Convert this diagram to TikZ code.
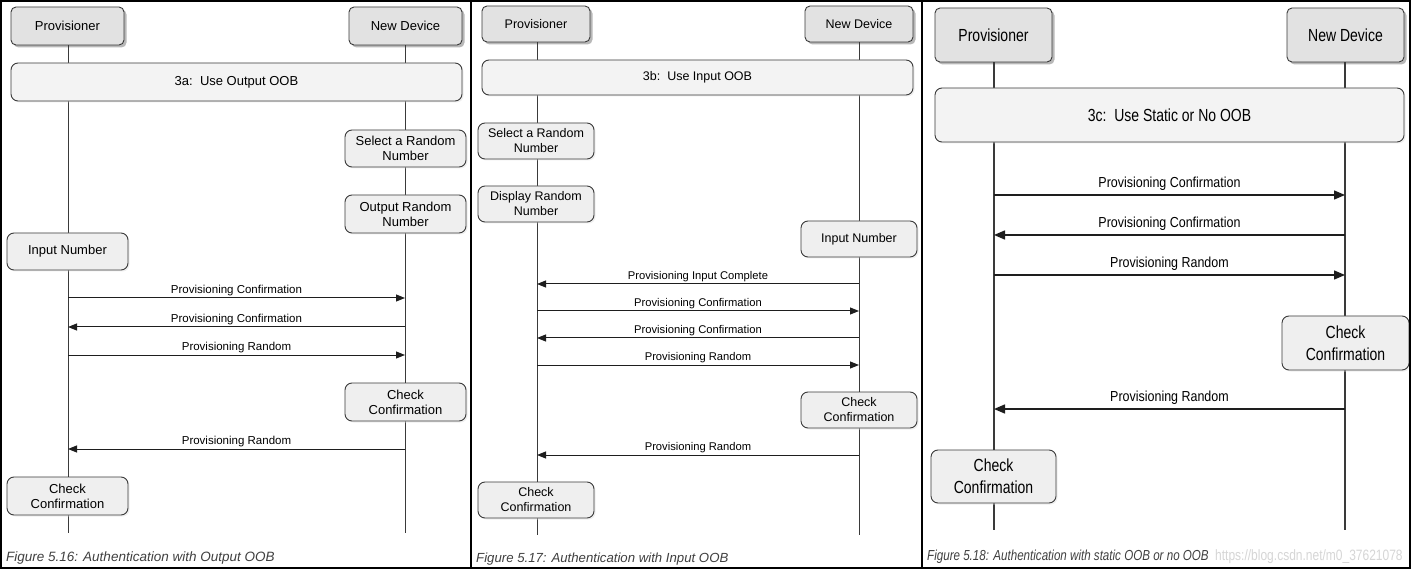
\documentclass[tikz,border=0pt]{standalone}
\usepackage{fontspec}
\setmainfont{Liberation Sans}
\newfontfamily\cfont[FakeStretch=0.8]{Liberation Sans}
\newfontfamily\clfont[FakeStretch=0.86]{Liberation Sans}
\usetikzlibrary{shadows,arrows.meta}
\definecolor{lc}{HTML}{3A3A3A}
\definecolor{mc}{HTML}{1E1E1E}
\definecolor{hfill}{HTML}{E2E2E2}
\definecolor{sfill}{HTML}{EFEFEF}
\definecolor{pfill}{HTML}{F3F3F3}
\definecolor{capc}{HTML}{404040}
\begin{document}
\begin{tikzpicture}[x=1pt,y=-1pt,
  frame/.style={draw=black, line width=2pt},
  life/.style={draw=lc, line width=0.9pt},
  hdr/.style={draw=lc, line width=0.9pt, fill=hfill, rounded corners=5pt, inner sep=0pt,
    drop shadow={shadow xshift=2.5pt, shadow yshift=-2.5pt, fill=black!55}},
  stp/.style={draw=lc, line width=0.9pt, fill=sfill, rounded corners=7pt, inner sep=0pt, align=center,
    drop shadow={shadow xshift=1.5pt, shadow yshift=-1.5pt, fill=black!12}},
  phs/.style={draw=lc, line width=0.9pt, fill=pfill, rounded corners=7pt, inner sep=0pt,
    drop shadow={shadow xshift=1.5pt, shadow yshift=-1.5pt, fill=black!12}},
  msg/.style={draw=mc, line width=1pt, -{Triangle[length=9pt,width=7pt]}},
  msgc/.style={draw=mc, line width=1.4pt, -{Triangle[length=11pt,width=9pt]}},
  lab/.style={above=0.5pt, inner sep=1pt},
  fa/.style={font=\fontsize{13}{15}\selectfont},
  fal/.style={font=\fontsize{11.5}{13}\selectfont},
  fb/.style={font=\fontsize{12.5}{15}\selectfont},
  fbl/.style={font=\fontsize{11.2}{13}\selectfont},
  fc/.style={font=\cfont\fontsize{17.5}{22}\selectfont},
  fcl/.style={font=\clfont\fontsize{14.5}{17}\selectfont},
  captxt/.style={anchor=base west, inner sep=0pt, text=capc},
]
\useasboundingbox (0,0) rectangle (1411,569);
\fill[white] (0,0) rectangle (1411,569);

% ================= Panel a =================
\coordinate (aPe) at (68,533);
\coordinate (aNe) at (405,533);
\node[hdr, fa, minimum width=113pt, minimum height=38pt] (aP) at (67.5,26) {Provisioner};
\node[hdr, fa, minimum width=113pt, minimum height=38pt] (aN) at (405.5,26) {New Device};
\draw[life] (aP.south -| aPe) -- (aPe);
\draw[life] (aN.south -| aNe) -- (aNe);
\node[phs, fa, minimum width=451pt, minimum height=38pt] (aPh) at (236.5,82) {3a:\ \ Use Output OOB};
\node[stp, fa, minimum width=121pt, minimum height=37pt] (aS1) at (405.5,148.5) {Select a Random\\Number};
\node[stp, fa, minimum width=121pt, minimum height=38pt] (aS2) at (405.5,214) {Output Random\\Number};
\node[stp, fa, minimum width=121pt, minimum height=37pt] (aS3) at (67.5,251.5) {Input Number};
\coordinate (a1l) at (68,298); \coordinate (a1r) at (405,298);
\coordinate (a2l) at (68,327); \coordinate (a2r) at (405,327);
\coordinate (a3l) at (68,355); \coordinate (a3r) at (405,355);
\coordinate (a4l) at (68,449); \coordinate (a4r) at (405,449);
\draw[msg] (a1l) -- (a1r) node[midway, lab, fal] (aL1) {Provisioning Confirmation};
\draw[msg] (a2r) -- (a2l) node[midway, lab, fal] (aL2) {Provisioning Confirmation};
\draw[msg] (a3l) -- (a3r) node[midway, lab, fal] (aL3) {Provisioning Random};
\node[stp, fa, minimum width=121pt, minimum height=38pt] (aS4) at (405.5,402) {Check\\Confirmation};
\draw[msg] (a4r) -- (a4l) node[midway, lab, fal] (aL4) {Provisioning Random};
\node[stp, fa, minimum width=121pt, minimum height=38pt] (aS5) at (67.5,496) {Check\\Confirmation};
\node[captxt, font=\fontsize{13.5}{15}\selectfont\itshape] (aC) at (6,561) {Figure 5.16: Authentication with Output OOB};

% ================= Panel b =================
\coordinate (bPe) at (537,535);
\coordinate (bNe) at (859,535);
\node[hdr, fb, minimum width=108pt, minimum height=36pt] (bP) at (536,24) {Provisioner};
\node[hdr, fb, minimum width=108pt, minimum height=36pt] (bN) at (859,24) {New Device};
\draw[life] (bP.south -| bPe) -- (bPe);
\draw[life] (bN.south -| bNe) -- (bNe);
\node[phs, fb, minimum width=431pt, minimum height=35pt] (bPh) at (697.5,77.5) {3b:\ \ Use Input OOB};
\node[stp, fb, minimum width=116pt, minimum height=36pt] (bS1) at (536,141) {Select a Random\\Number};
\node[stp, fb, minimum width=116pt, minimum height=36pt] (bS2) at (536,204) {Display Random\\Number};
\node[stp, fb, minimum width=116pt, minimum height=36pt] (bS3) at (859,239) {Input Number};
\coordinate (b1l) at (537,284); \coordinate (b1r) at (859,284);
\coordinate (b2l) at (537,311); \coordinate (b2r) at (859,311);
\coordinate (b3l) at (537,338); \coordinate (b3r) at (859,338);
\coordinate (b4l) at (537,365); \coordinate (b4r) at (859,365);
\coordinate (b5l) at (537,455); \coordinate (b5r) at (859,455);
\draw[msg] (b1r) -- (b1l) node[midway, lab, fbl] (bL1) {Provisioning Input Complete};
\draw[msg] (b2l) -- (b2r) node[midway, lab, fbl] (bL2) {Provisioning Confirmation};
\draw[msg] (b3r) -- (b3l) node[midway, lab, fbl] (bL3) {Provisioning Confirmation};
\draw[msg] (b4l) -- (b4r) node[midway, lab, fbl] (bL4) {Provisioning Random};
\node[stp, fb, minimum width=116pt, minimum height=36pt] (bS4) at (859,410) {Check\\Confirmation};
\draw[msg] (b5r) -- (b5l) node[midway, lab, fbl] (bL5) {Provisioning Random};
\node[stp, fb, minimum width=116pt, minimum height=36pt] (bS5) at (536,500) {Check\\Confirmation};
\node[captxt, font=\fontsize{13.2}{15}\selectfont\itshape] (bC) at (476,562) {Figure 5.17: Authentication with Input OOB};

% ================= Panel c =================
\coordinate (cPe) at (994,530);
\coordinate (cNe) at (1345,530);
\node[hdr, fc, minimum width=117pt, minimum height=54pt] (cP) at (993.5,35) {Provisioner};
\node[hdr, fc, minimum width=117pt, minimum height=54pt] (cN) at (1345.5,35) {New Device};
\draw[life, line width=1.2pt] (cP.south -| cPe) -- (cPe);
\draw[life, line width=1.2pt] (cN.south -| cNe) -- (cNe);
\node[phs, fc, minimum width=469pt, minimum height=54pt] (cPh) at (1169.5,115) {3c:\ \ Use Static or No OOB};
\coordinate (c1l) at (994,195); \coordinate (c1r) at (1345,195);
\coordinate (c2l) at (994,235); \coordinate (c2r) at (1345,235);
\coordinate (c3l) at (994,275); \coordinate (c3r) at (1345,275);
\coordinate (c4l) at (994,409); \coordinate (c4r) at (1345,409);
\draw[msgc] (c1l) -- (c1r) node[midway, lab, fcl, above=2pt] (cL1) {Provisioning Confirmation};
\draw[msgc] (c2r) -- (c2l) node[midway, lab, fcl, above=2pt] (cL2) {Provisioning Confirmation};
\draw[msgc] (c3l) -- (c3r) node[midway, lab, fcl, above=2pt] (cL3) {Provisioning Random};
\node[stp, fc, minimum width=127pt, minimum height=54pt] (cS1) at (1345.5,343) {Check\\Confirmation};
\draw[msgc] (c4r) -- (c4l) node[midway, lab, fcl, above=2pt] (cL4) {Provisioning Random};
\node[stp, fc, minimum width=125pt, minimum height=53pt] (cS2) at (993.5,476.5) {Check\\Confirmation};
\node[captxt, font=\cfont\fontsize{14.5}{16}\selectfont\itshape] (cC) at (927,560) {Figure 5.18: Authentication with static OOB or no OOB};
\node[captxt, text=black!16, font=\cfont\fontsize{15}{17}\selectfont] (cW) at (1215,560) {https://blog.csdn.net/m0\_37621078};

% ================= Frames =================
\draw[frame] (1,1) rectangle (1410,568);
\draw[frame] (471,1) -- (471,568);
\draw[frame] (922,1) -- (922,568);
\end{tikzpicture}
\end{document}
